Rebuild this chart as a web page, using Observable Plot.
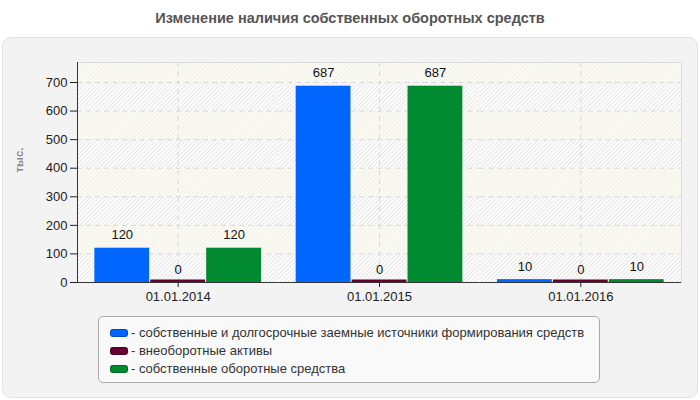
<!DOCTYPE html>
<html><head><meta charset="utf-8">
<script src="https://cdn.jsdelivr.net/npm/d3@7"></script>
<script src="https://cdn.jsdelivr.net/npm/@observablehq/plot@0.6"></script>
<style>
body{margin:0;width:700px;height:400px;background:#fff;font-family:"Liberation Sans",Arial,sans-serif;position:relative;overflow:hidden}
#title{position:absolute;left:0;top:10px;width:700px;text-align:center;font-weight:bold;font-size:14.5px;color:#555}
#panel{position:absolute;left:2px;top:37px;width:694px;height:359px;background:#f3f3f3;border:1px solid #e2e2e2;border-radius:9px}
#chart{position:absolute;left:0;top:37px}
#ylabel{position:absolute;left:19px;top:160px;transform:translate(-50%,-50%) rotate(-90deg);font-size:11.5px;font-weight:bold;color:#888;white-space:nowrap}
#legend{position:absolute;left:98px;top:316px;width:502px;height:67px;border:1px solid #aaa;border-radius:5px;background:#f9f9f9;font-size:13px;color:#333;padding-top:7px;box-sizing:border-box;padding-left:11px}
.row{height:18px;line-height:18px;display:flex;align-items:center;white-space:nowrap}
.sw{display:inline-block;width:16px;height:6px;border-radius:3px;margin-right:3px;border:1px solid rgba(0,0,0,0.25)}
</style></head>
<body>
<div id="title"></div>
<div id="panel"></div>
<div id="chart"></div>
<div id="ylabel"></div>
<div id="legend"></div>
<script>
const title = "Изменение наличия собственных оборотных средств";
const yLabel = "тыс.";
const dates = ["01.01.2014", "01.01.2015", "01.01.2016"];
const series = [
  "собственные и долгосрочные заемные источники формирования средств",
  "внеоборотные активы",
  "собственные оборотные средства"
];
const colors = ["#0066ff", "#660033", "#00892f"];
const ownLongTerm = [120, 687, 10];
const nonCurrent = [0, 0, 0];
const ownWorking = [120, 687, 10];
const yTicks = [0, 100, 200, 300, 400, 500, 600, 700];
const yMax = 770;

const values = [ownLongTerm, nonCurrent, ownWorking];
const data = dates.flatMap((d, i) => series.map((s, j) => ({date: d, series: s, value: values[j][i]})));
const hatchStarts = yTicks.filter((t, i) => i % 2 === 0);

document.getElementById("title").textContent = title;
document.getElementById("ylabel").textContent = yLabel;
const legend = document.getElementById("legend");
series.forEach((s, j) => {
  const row = document.createElement("div");
  row.className = "row";
  const sw = document.createElement("span");
  sw.className = "sw";
  sw.style.background = colors[j];
  row.appendChild(sw);
  row.appendChild(document.createTextNode("- " + s));
  legend.appendChild(row);
});

const grid = {stroke: "#d9d9d9", strokeDasharray: "5,4"};
const svg = Plot.plot({
  width: 700, height: 270,
  marginLeft: 77, marginRight: 19, marginTop: 25, marginBottom: 25,
  style: {fontFamily: "'Liberation Sans', Arial, sans-serif", fontSize: "13px", background: "transparent", color: "#222"},
  fx: {domain: dates, padding: 0, round: false, label: null, axis: "bottom", tickSize: 5, tickPadding: 4},
  x: {domain: series, axis: null, round: false, paddingInner: 0.02, paddingOuter: 0.31},
  y: {domain: [0, yMax], ticks: yTicks, tickSize: 7, tickPadding: 3, label: null},
  color: {domain: series, range: colors},
  marks: [
    Plot.frame({fill: "url(#hatchB)", stroke: "none"}),
    Plot.rect(hatchStarts, {y1: d => d, y2: d => d + 100, fill: "url(#hatchA)"}),
    Plot.ruleY(yTicks.slice(1), grid),
    Plot.ruleX([series[1]], grid),
    Plot.ruleY([yMax], {stroke: "#dcdcdc"}),
    Plot.frame({anchor: "right", stroke: "#dcdcdc", facet: "super"}),
    Plot.barY(data, {fx: "date", x: "series", y: "value", fill: "series"}),
    Plot.barY(data.filter(d => d.value === 0), {fx: "date", x: "series", y: "value", fill: "series", insetTop: -2.5}),
    Plot.text(data, {fx: "date", x: "series", y: "value", text: d => String(d.value), dy: -13, fill: "#111"}),
    Plot.ruleY([0], {stroke: "#333"}),
    Plot.frame({anchor: "left", stroke: "#333", facet: "super"})
  ]
});
const defs = d3.select(svg).insert("defs", ":first-child");
const pa = defs.append("pattern").attr("id", "hatchA").attr("patternUnits", "userSpaceOnUse")
  .attr("width", 3).attr("height", 3).attr("patternTransform", "rotate(45)");
pa.append("rect").attr("width", 3).attr("height", 3).attr("fill", "#fdfdfd");
pa.append("line").attr("x1", 0.5).attr("x2", 0.5).attr("y1", 0).attr("y2", 3).attr("stroke", "#e6e6e6").attr("stroke-width", 1);
const pb = defs.append("pattern").attr("id", "hatchB").attr("patternUnits", "userSpaceOnUse")
  .attr("width", 3).attr("height", 3).attr("patternTransform", "rotate(45)");
pb.append("rect").attr("width", 3).attr("height", 3).attr("fill", "#fbfbf4");
pb.append("line").attr("x1", 0.5).attr("x2", 0.5).attr("y1", 0).attr("y2", 3).attr("stroke", "#f1f1ea").attr("stroke-width", 1);
document.getElementById("chart").appendChild(svg);
</script>
</body></html>
